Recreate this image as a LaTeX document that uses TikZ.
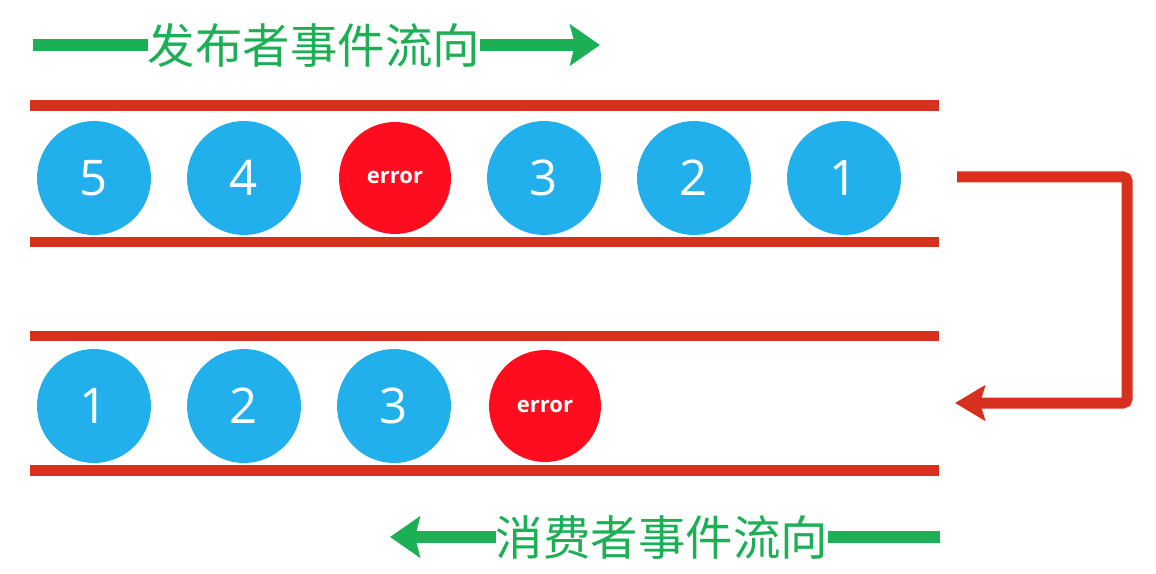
\documentclass[tikz,border=0pt]{standalone}
\usepackage{fontspec}
\setmainfont{Open Sans}
\newfontfamily\cjk{Noto Sans CJK SC}
\usetikzlibrary{arrows.meta}
\definecolor{ballblue}{HTML}{22B0EC}
\definecolor{errred}{HTML}{FF0D1E}
\definecolor{bandred}{HTML}{D8301E}
\definecolor{flowgreen}{HTML}{1DAF55}
\tikzset{
    ball/.style={circle, fill=ballblue, minimum size=2.28cm, inner sep=0pt, text=white, font=\fontsize{28}{30}\selectfont},
    errball/.style={ball, fill=errred, minimum size=2.24cm, font=\bfseries\fontsize{12.5}{15}\selectfont},
    band/.style={draw=bandred, line width=0.22cm},
    flowline/.style={draw=flowgreen, line width=0.24cm},
    flow/.style={flowline, -{Stealth[length=0.6cm, width=0.82cm, inset=0.1cm]}},
    title/.style={text=flowgreen, inner sep=0pt, font=\cjk\fontsize{27}{30}\selectfont},
}
\begin{document}
\begin{tikzpicture}[x=0.02cm, y=-0.02cm]
    \useasboundingbox (0,0) rectangle (1156,574);
    % the two queues
    \draw[band] (30,106) -- (939,106)  (30,242) -- (939,242);
    \draw[band] (30,336) -- (939,336)  (30,470) -- (939,470);

    \node[ball] (p5) at (94,178) {5};
    \node[ball] (p4) at (244,178) {4};
    \node[errball] (pe) at (395,178) {error};
    \node[ball] (p3) at (544,178) {3};
    \node[ball] (p2) at (694,178) {2};
    \node[ball] (p1) at (844,178) {1};

    \node[ball] (c1) at (94,406) {1};
    \node[ball] (c2) at (244,406) {2};
    \node[ball] (c3) at (394,406) {3};
    \node[errball] (ce) at (545,406) {error};

    % flow directions
    \node[title] (pub) at (314,45) {发布者事件流向};
    \coordinate (pubstart) at (33,45);
    \coordinate (pubend) at (600,45);
    \draw[flowline] (pubstart) -- (pub);
    \draw[flow] (pub) -- (pubend);

    \node[title] (sub) at (662,537) {消费者事件流向};
    \coordinate (substart) at (940,537);
    \coordinate (subend) at (390,537);
    \draw[flowline] (substart) -- (sub);
    \draw[flow] (sub) -- (subend);

    % hand over from publisher to consumer
    \coordinate (out) at (957,177);
    \coordinate (in) at (955,403);
    \draw[draw=bandred, line width=0.22cm, rounded corners=0.08cm, -{Stealth[length=0.6cm, width=0.7cm, inset=0.1cm]}]
        (out) -- (1127,177) -- (1127,403) -- (in);
\end{tikzpicture}
\end{document}
